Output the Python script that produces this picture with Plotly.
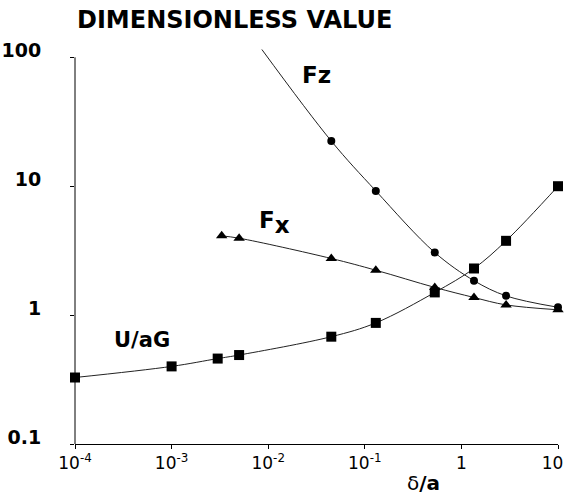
import plotly.graph_objects as go

# delta/a positions of the computed points
x_uag = [1e-4, 1e-3, 3e-3, 5e-3, 0.045, 0.13, 0.53, 1.35, 2.9, 10]
uag = [0.328, 0.40, 0.46, 0.49, 0.68, 0.87, 1.50, 2.30, 3.77, 10.0]

x_fx = [3.3e-3, 5e-3, 0.045, 0.13, 0.53, 1.35, 2.9, 10]
fx = [4.12, 3.95, 2.75, 2.23, 1.64, 1.37, 1.20, 1.10]

x_fz = [0.045, 0.13, 0.53, 1.35, 2.9, 10]
fz = [22.4, 9.2, 3.06, 1.85, 1.41, 1.15]

# the Fz fit continues to smaller gaps, past the top of the scale
x_fz_fit = [0.0086] + x_fz
fz_fit = [115] + fz

x_ticks = [1e-4, 1e-3, 1e-2, 1e-1, 1, 10]
x_ticktext = ["10<sup>-4</sup>", "10<sup>-3</sup>", "10<sup>-2</sup>",
              "10<sup>-1</sup>", "1", "10&nbsp;&nbsp;"]
y_ticks = [0.1, 1, 10, 100]
y_ticktext = ["0.1", "1", "10", "100"]

FONT = "DejaVu Sans"
LINE = dict(color="#222222", width=1, shape="spline", smoothing=1.0)

fig = go.Figure()

# fitted curves
fig.add_trace(go.Scatter(x=x_uag, y=uag, mode="lines", line=LINE, hoverinfo="skip"))
fig.add_trace(go.Scatter(x=x_fx, y=fx, mode="lines", line=LINE, hoverinfo="skip"))
fig.add_trace(go.Scatter(x=x_fz_fit, y=fz_fit, mode="lines", line=LINE, hoverinfo="skip"))

# computed points
fig.add_trace(go.Scatter(x=x_uag, y=uag, mode="markers", cliponaxis=False,
                         marker=dict(symbol="square", size=10, color="black")))
fig.add_trace(go.Scatter(x=x_fx, y=fx, mode="markers", cliponaxis=False,
                         marker=dict(symbol="triangle-up", size=10, color="black")))
fig.add_trace(go.Scatter(x=x_fz, y=fz, mode="markers", cliponaxis=False,
                         marker=dict(symbol="circle", size=8, color="black")))

# series labels (annotation positions are log10 on log axes)
label_font = dict(family=FONT, size=23, color="black")
fig.add_annotation(x=-1.495, y=1.86, text="<b>Fz</b>", showarrow=False, font=label_font)
fig.add_annotation(x=-1.93, y=0.72,
                   text="<b>F<sub><span style='font-size:23px'>x</span></sub></b>",
                   showarrow=False, font=label_font)
fig.add_annotation(x=-3.306, y=-0.19, text="<b>U/aG</b>", showarrow=False,
                   font=dict(family=FONT, size=21, color="black"))

# axis captions
fig.add_annotation(xref="paper", yref="paper", x=0.0, y=1.068, xanchor="left",
                   yanchor="middle", text="<b>DIMENSIONLESS VALUE</b>", showarrow=False,
                   font=dict(family=FONT, size=24, color="black"))
fig.add_annotation(xref="paper", yref="paper", x=0.722, y=-0.098, xanchor="center",
                   yanchor="middle", text="δ<b>/a</b>", showarrow=False,
                   font=dict(family=FONT, size=20, color="black"))

# vertical axis line spans only 0.1 .. 100
fig.add_shape(type="line", xref="paper", yref="y", x0=0, x1=0, y0=0.1, y1=100,
              line=dict(color="black", width=1))

fig.update_layout(
    width=566, height=504,
    margin=dict(l=75, r=8, t=47, b=60, autoexpand=False),
    paper_bgcolor="white", plot_bgcolor="white",
    showlegend=False,
    xaxis=dict(type="log", range=[-4, 1], tickvals=x_ticks, ticktext=x_ticktext,
               showgrid=False, zeroline=False, showline=True, linecolor="black",
               linewidth=1, ticks="outside", ticklen=4, tickcolor="black",
               ticklabeloverflow="allow", automargin=False,
               tickfont=dict(family=FONT, size=17, color="black")),
    yaxis=dict(type="log", range=[-1, 2.08], tickvals=y_ticks,
               ticktext=["<b>%s</b>" % t for t in y_ticktext],
               showgrid=False, zeroline=False, showline=False,
               ticks="outside", ticklen=4, tickcolor="black", automargin=False,
               ticklabelstandoff=25, ticklabelshift=-7,
               tickfont=dict(family=FONT, size=19, color="black")),
)

fig.write_html("out.html")
